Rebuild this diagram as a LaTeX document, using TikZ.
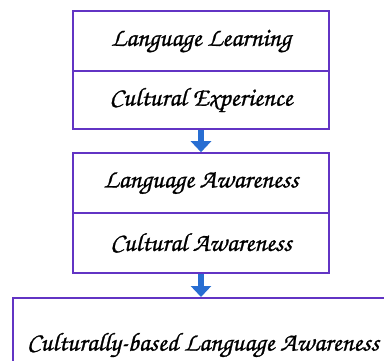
\documentclass[tikz,border=0pt]{standalone}
\usepackage{fontspec}
\setmainfont{TeX Gyre Chorus}
\newfontfamily\chorusheavy{TeX Gyre Chorus}[FakeBold=0.9]
\usetikzlibrary{arrows.meta}
\definecolor{boxline}{RGB}{98,52,196}
\definecolor{arrowblue}{RGB}{40,110,210}
\begin{document}
\begin{tikzpicture}[x=1pt,y=-1pt,
  labelfont/.style={font=\chorusheavy\fontsize{26}{29}\selectfont},
  cell/.style={draw=boxline,line width=1.6pt,minimum width=256pt,inner sep=0pt,labelfont},
  flowarrow/.style={draw=arrowblue,line width=6pt,-{Triangle[width=20pt,length=11pt]}}]
\useasboundingbox (0,0) rectangle (384,360);
\clip (0,0) rectangle (384,360);
\node[cell,minimum height=60pt] (ll) at (201,41) {Language Learning};
\node[cell,minimum height=58pt] (ce) at (201,100) {Cultural Experience};
\node[cell,minimum height=60pt] (la) at (201,183) {Language Awareness};
\node[cell,minimum height=60pt] (ca) at (201,243) {Cultural Awareness};
\node[cell,minimum width=382pt,minimum height=96pt,anchor=north west] (cbla) at (12,297) {};
\node[labelfont] (cblat) at (203,345) {Culturally-based Language Awareness};
\draw[flowarrow] (ce.south) -- (la.north);
\draw[flowarrow] (ca.south) -- (cbla.north -| ca.south);
\end{tikzpicture}
\end{document}
